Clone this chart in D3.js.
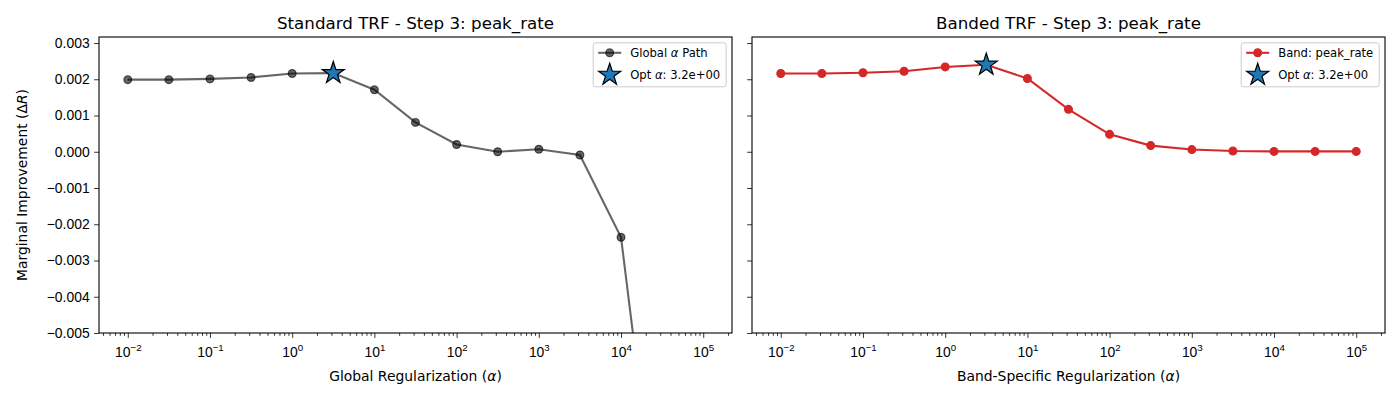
<!DOCTYPE html>
<html>
<head>
<meta charset="utf-8">
<script src="https://cdn.jsdelivr.net/npm/d3@7"></script>
<style>
  body { margin: 0; background: #fff; }
  svg { font-family: "DejaVu Sans", sans-serif; }
</style>
</head>
<body>
<svg id="chart" width="1400" height="400"></svg>
<script>
// data
const alphas = [0.01, 0.0316, 0.1, 0.316, 1, 3.16, 10, 31.6, 100, 316, 1000, 3162, 10000, 31623, 100000];
const globalPath = [0.00199, 0.00199, 0.00201, 0.00205, 0.00216, 0.00217, 0.00171, 0.00081, 0.00020, 0.00000, 0.00007, -0.00009, -0.00236, -0.0115, -0.030];
const bandPath = [0.00216, 0.00216, 0.00218, 0.00222, 0.00234, 0.00240, 0.00202, 0.00117, 0.00048, 0.00017, 0.00006, 0.00002, 0.00001, 0.00001, 0.00001];
const optAlpha = 3.16;
const optIndex = 5;

const xMajor = [1e-2, 1e-1, 1e0, 1e1, 1e2, 1e3, 1e4, 1e5];
const xExp = ["\u22122", "\u22121", "0", "1", "2", "3", "4", "5"];
const yTicks = [-0.005, -0.004, -0.003, -0.002, -0.001, 0, 0.001, 0.002, 0.003];
const yLabels = ["\u22120.005", "\u22120.004", "\u22120.003", "\u22120.002", "\u22120.001", "0.000", "0.001", "0.002", "0.003"];

const svg = d3.select("#chart");
const plotTop = 37, plotBottom = 333;

const y = d3.scaleLinear().domain([-0.005, 0.003166]).range([plotBottom, plotTop]);

function drawPanel(left, right, cfg) {
    const x = d3.scaleLog().domain([Math.pow(10, -2.35), Math.pow(10, 5.35)]).range([left, right]);
    const g = svg.append("g");
    const clipId = "clip" + cfg.id;

    g.append("clipPath").attr("id", clipId)
        .append("rect").attr("x", left).attr("y", plotTop)
        .attr("width", right - left).attr("height", plotBottom - plotTop);

    // x axis, major + minor ticks
    const minor = x.ticks().filter(t => !xMajor.some(m => Math.abs(m - t) / m < 1e-6));
    g.append("g").attr("transform", `translate(0,${plotBottom})`)
        .call(d3.axisBottom(x).tickValues(minor).tickSize(2.8).tickFormat(""))
        .call(a => a.select(".domain").remove())
        .call(a => a.selectAll("line").attr("stroke-width", 0.8));

    const xa = g.append("g").attr("transform", `translate(0,${plotBottom})`)
        .call(d3.axisBottom(x).tickValues(xMajor).tickSize(4.9).tickPadding(5).tickFormat(""))
        .call(a => a.select(".domain").remove())
        .call(a => a.selectAll("line").attr("stroke-width", 0.8));
    xa.selectAll(".tick text").each(function(d, i) {
        const t = d3.select(this).attr("font-size", 13.9).attr("fill", "#000").attr("dy", "1.05em");
        t.append("tspan").text("10");
        t.append("tspan").text(xExp[i]).attr("font-size", 9.7).attr("dy", "-0.62em");
    });

    // y axis
    const ya = g.append("g").attr("transform", `translate(${left},0)`)
        .call(d3.axisLeft(y).tickValues(yTicks).tickSize(4.9).tickPadding(4.5)
            .tickFormat((d, i) => cfg.yLabels ? yLabels[i] : ""))
        .call(a => a.select(".domain").remove())
        .call(a => a.selectAll("line").attr("stroke-width", 0.8));
    ya.selectAll("text").attr("font-size", 13.9).attr("fill", "#000");

    // data line
    const line = d3.line().x((d, i) => x(alphas[i])).y(d => y(d));
    const plot = g.append("g").attr("clip-path", `url(#${clipId})`);
    plot.append("path").datum(cfg.values)
        .attr("d", line).attr("fill", "none")
        .attr("stroke", cfg.color).attr("stroke-opacity", cfg.opacity)
        .attr("stroke-width", 2.08);
    plot.selectAll("circle").data(cfg.values).enter().append("circle")
        .attr("cx", (d, i) => x(alphas[i])).attr("cy", d => y(d)).attr("r", 3.9)
        .attr("fill", cfg.color).attr("fill-opacity", cfg.opacity)
        .attr("stroke", cfg.color).attr("stroke-opacity", cfg.opacity).attr("stroke-width", 1.2);

    const star = d3.symbol().type(d3.symbolStar).size(150);
    plot.append("path").attr("d", star())
        .attr("transform", `translate(${x(optAlpha)},${y(cfg.values[optIndex])})`)
        .attr("fill", "#1f77b4").attr("stroke", "#000").attr("stroke-width", 1.2);

    // frame
    g.append("rect").attr("x", left).attr("y", plotTop)
        .attr("width", right - left).attr("height", plotBottom - plotTop)
        .attr("fill", "none").attr("stroke", "#000").attr("stroke-width", 1.1);

    // title and x label
    g.append("text").attr("x", (left + right) / 2).attr("y", 29)
        .attr("text-anchor", "middle").attr("font-size", 16.7).text(cfg.title);
    const xl = g.append("text").attr("x", (left + right) / 2).attr("y", 381)
        .attr("text-anchor", "middle").attr("font-size", 13.9);
    xl.append("tspan").text(cfg.xlabel + " (");
    xl.append("tspan").attr("font-style", "italic").text("\u03b1");
    xl.append("tspan").text(")");

    // legend
    const lw = cfg.legendW, lx = right - 5.8 - lw, ly = plotTop + 5.8;
    const lg = g.append("g");
    lg.append("rect").attr("x", lx).attr("y", ly).attr("width", lw).attr("height", 44)
        .attr("rx", 2.5).attr("fill", "#fff").attr("fill-opacity", 0.8)
        .attr("stroke", "#ccc").attr("stroke-width", 1);
    const hx = lx + 5;
    lg.append("line").attr("x1", hx).attr("x2", hx + 23).attr("y1", ly + 10).attr("y2", ly + 10)
        .attr("stroke", cfg.color).attr("stroke-opacity", cfg.opacity).attr("stroke-width", 2.08);
    lg.append("circle").attr("cx", hx + 11.5).attr("cy", ly + 10).attr("r", 3.9)
        .attr("fill", cfg.color).attr("fill-opacity", cfg.opacity)
        .attr("stroke", cfg.color).attr("stroke-opacity", cfg.opacity).attr("stroke-width", 1.2);
    lg.append("path").attr("d", star())
        .attr("transform", `translate(${hx + 11.5},${ly + 32})`)
        .attr("fill", "#1f77b4").attr("stroke", "#000").attr("stroke-width", 1.2);
    const t1 = lg.append("text").attr("x", hx + 32).attr("y", ly + 14).attr("font-size", 11.6);
    cfg.legendLabel.forEach(p => t1.append("tspan").attr("font-style", p.it ? "italic" : null).text(p.s));
    const t2 = lg.append("text").attr("x", hx + 32).attr("y", ly + 36).attr("font-size", 11.6);
    t2.append("tspan").text("Opt ");
    t2.append("tspan").attr("font-style", "italic").text("\u03b1");
    t2.append("tspan").text(": 3.2e+00");
}

drawPanel(99, 732, {
    id: "a", values: globalPath, color: "#000", opacity: 0.6, yLabels: true,
    title: "Standard TRF - Step 3: peak_rate", xlabel: "Global Regularization",
    legendW: 133, legendLabel: [{s: "Global "}, {s: "\u03b1", it: true}, {s: " Path"}]
});
drawPanel(752, 1385, {
    id: "b", values: bandPath, color: "#d62728", opacity: 1, yLabels: false,
    title: "Banded TRF - Step 3: peak_rate", xlabel: "Band-Specific Regularization",
    legendW: 138, legendLabel: [{s: "Band: peak_rate"}]
});

// shared y label
const ylab = svg.append("text").attr("transform", "translate(27,185) rotate(-90)")
    .attr("text-anchor", "middle").attr("font-size", 13.9);
ylab.append("tspan").text("Marginal Improvement (\u0394");
ylab.append("tspan").attr("font-style", "italic").text("R");
ylab.append("tspan").text(")");
</script>
</body>
</html>
